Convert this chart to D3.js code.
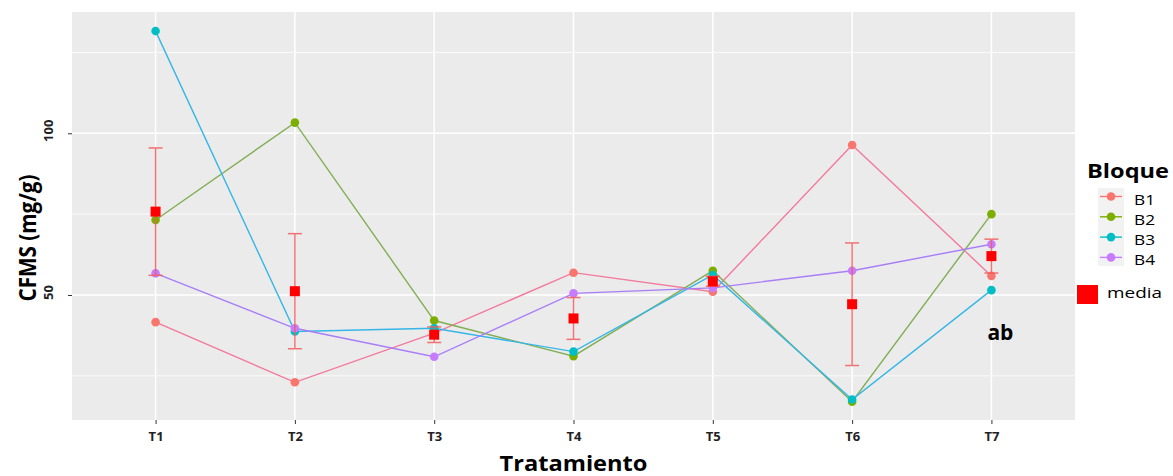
<!DOCTYPE html>
<html>
<head>
<meta charset="utf-8">
<script src="https://cdn.jsdelivr.net/npm/d3@7"></script>
<style>
  body { margin: 0; background: #fff; }
  text { font-family: "Open Sans", "DejaVu Sans", sans-serif; }
</style>
</head>
<body>
<svg id="chart"></svg>
<script>
// data
const tratamientos = ['T1', 'T2', 'T3', 'T4', 'T5', 'T6', 'T7'];
const bloques = ['B1', 'B2', 'B3', 'B4'];
const b1 = [41.6, 23.0, 38.2, 56.9, 51.0, 96.4, 55.9];
const b2 = [73.2, 103.3, 42.1, 31.1, 57.5, 17.0, 75.0];
const b3 = [131.6, 38.7, 39.7, 32.5, 56.2, 17.7, 51.5];
const b4 = [56.7, 39.7, 30.9, 50.5, 52.2, 57.5, 65.7];
const yTicks = [50, 100];
const yMinor = [25, 75, 125];
const etiqueta = { cat: 'T7', y: 36, text: 'ab' };

const series = [b1, b2, b3, b4];
const pointColor = ['#F8766D', '#7CAE00', '#00BFC4', '#C77CFF'];
const lineColor = ['#F27A9C', '#82AE55', '#35B6E6', '#A77EF6'];

const W = 1173, H = 476;
const panel = { left: 72, right: 1075, top: 12, bottom: 420 };

const svg = d3.select('#chart').attr('width', W).attr('height', H);

const x = d3.scalePoint()
    .domain(tratamientos)
    .range([panel.left, panel.right])
    .padding(0.6);
const y = d3.scaleLinear()
    .domain([11.35, 137.5])
    .range([panel.bottom, panel.top]);

// mean +- standard error per treatment
const resumen = tratamientos.map((t, i) => {
    const vals = series.map(s => s[i]);
    const m = d3.mean(vals);
    const se = d3.deviation(vals) / Math.sqrt(vals.length);
    return { t: t, mean: m, lo: m - se, hi: m + se };
});

// panel
svg.append('rect')
    .attr('x', panel.left).attr('y', panel.top)
    .attr('width', panel.right - panel.left)
    .attr('height', panel.bottom - panel.top)
    .attr('fill', '#EBEBEB');

const grid = svg.append('g');
grid.selectAll('.minor')
    .data(yMinor)
    .enter().append('line')
    .attr('x1', panel.left).attr('x2', panel.right)
    .attr('y1', d => y(d)).attr('y2', d => y(d))
    .attr('stroke', '#fff').attr('stroke-width', 0.8);
grid.selectAll('.major')
    .data(yTicks)
    .enter().append('line')
    .attr('x1', panel.left).attr('x2', panel.right)
    .attr('y1', d => y(d)).attr('y2', d => y(d))
    .attr('stroke', '#fff').attr('stroke-width', 1.5);
grid.selectAll('.vert')
    .data(tratamientos)
    .enter().append('line')
    .attr('x1', d => x(d)).attr('x2', d => x(d))
    .attr('y1', panel.top).attr('y2', panel.bottom)
    .attr('stroke', '#fff').attr('stroke-width', 1.5);

// axes
const yAxis = svg.append('g')
    .attr('transform', `translate(${panel.left},0)`)
    .call(d3.axisLeft(y).tickValues(yTicks).tickSize(4));
yAxis.select('.domain').remove();
yAxis.selectAll('line').attr('stroke', '#333');
// rotated tick labels, placed by hand inside each tick group
yAxis.selectAll('.tick text')
    .attr('x', null).attr('dy', null)
    .attr('transform', 'translate(-19,-3) rotate(-90)')
    .attr('text-anchor', 'middle')
    .style('font-size', '13px').style('font-weight', 'bold').style('fill', '#222');

const xAxis = svg.append('g')
    .attr('transform', `translate(0,${panel.bottom})`)
    .call(d3.axisBottom(x).tickSize(4));
xAxis.select('.domain').remove();
xAxis.selectAll('line').attr('stroke', '#333');
xAxis.selectAll('.tick text')
    .attr('y', 21).attr('dy', null)
    .style('font-size', '13px').style('font-weight', 'bold').style('fill', '#222');

// axis titles
svg.append('text')
    .attr('x', (panel.left + panel.right) / 2).attr('y', 471)
    .attr('text-anchor', 'middle')
    .attr('textLength', 148).attr('lengthAdjust', 'spacingAndGlyphs')
    .style('font-size', '22px').style('font-weight', 'bold')
    .text('Tratamiento');
svg.append('text')
    .attr('transform', 'translate(36,238) rotate(-90)')
    .attr('text-anchor', 'middle')
    .attr('textLength', 127).attr('lengthAdjust', 'spacingAndGlyphs')
    .style('font-size', '24px').style('font-weight', 'bold')
    .text('CFMS (mg/g)');

// lines and points
const lineFun = d3.line()
    .x((d, i) => x(tratamientos[i]))
    .y(d => y(d));

series.forEach((s, k) => {
    svg.append('path')
        .attr('d', lineFun(s))
        .attr('fill', 'none')
        .attr('stroke', lineColor[k])
        .attr('stroke-width', 1.4);
});
series.forEach((s, k) => {
    svg.append('g').selectAll('circle')
        .data(s)
        .enter().append('circle')
        .attr('cx', (d, i) => x(tratamientos[i]))
        .attr('cy', d => y(d))
        .attr('r', 4.3)
        .attr('fill', pointColor[k]);
});

// error bars and means
const eb = svg.append('g').attr('stroke', '#F25C5C').attr('stroke-width', 1.5).attr('opacity', 0.85);
eb.selectAll('.v')
    .data(resumen).enter().append('line')
    .attr('x1', d => x(d.t)).attr('x2', d => x(d.t))
    .attr('y1', d => y(d.lo)).attr('y2', d => y(d.hi));
eb.selectAll('.top')
    .data(resumen).enter().append('line')
    .attr('x1', d => x(d.t) - 7).attr('x2', d => x(d.t) + 7)
    .attr('y1', d => y(d.hi)).attr('y2', d => y(d.hi));
eb.selectAll('.bot')
    .data(resumen).enter().append('line')
    .attr('x1', d => x(d.t) - 7).attr('x2', d => x(d.t) + 7)
    .attr('y1', d => y(d.lo)).attr('y2', d => y(d.lo));
svg.append('g').selectAll('rect')
    .data(resumen).enter().append('rect')
    .attr('x', d => x(d.t) - 5).attr('y', d => y(d.mean) - 5)
    .attr('width', 10).attr('height', 10)
    .attr('fill', '#FF0000');

// annotation
svg.append('text')
    .attr('x', x(etiqueta.cat) + 9).attr('y', y(etiqueta.y))
    .attr('text-anchor', 'middle')
    .style('font-size', '21px').style('font-weight', 'bold')
    .text(etiqueta.text);

// legend
const lg = svg.append('g');
lg.append('text')
    .attr('x', 1087).attr('y', 178)
    .attr('textLength', 82).attr('lengthAdjust', 'spacingAndGlyphs')
    .style('font-size', '19px').style('font-weight', 'bold')
    .text('Bloque');
lg.append('rect')
    .attr('x', 1098).attr('y', 188).attr('width', 26).attr('height', 78)
    .attr('fill', '#F2F2F2');
bloques.forEach((b, k) => {
    const cy = 196.5 + k * 20.3;
    lg.append('line')
        .attr('x1', 1100).attr('x2', 1122).attr('y1', cy).attr('y2', cy)
        .attr('stroke', pointColor[k]).attr('stroke-width', 1.4);
    lg.append('circle')
        .attr('cx', 1111).attr('cy', cy).attr('r', 4.3)
        .attr('fill', pointColor[k]);
    lg.append('text')
        .attr('x', 1134).attr('y', cy + 8)
        .attr('textLength', 21).attr('lengthAdjust', 'spacingAndGlyphs')
        .style('font-size', '14.5px')
        .text(b);
});
lg.append('rect')
    .attr('x', 1077).attr('y', 285).attr('width', 21).attr('height', 19)
    .attr('fill', '#FF0000');
lg.append('text')
    .attr('x', 1107).attr('y', 298)
    .attr('textLength', 55).attr('lengthAdjust', 'spacingAndGlyphs')
    .style('font-size', '15px')
    .text('media');
</script>
</body>
</html>
